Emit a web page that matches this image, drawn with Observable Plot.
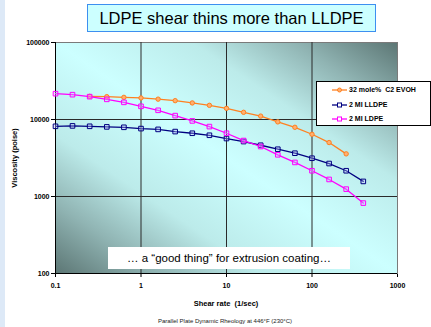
<!DOCTYPE html>
<html>
<head>
<meta charset="utf-8">
<script src="https://cdn.jsdelivr.net/npm/d3@7"></script>
<script src="https://cdn.jsdelivr.net/npm/@observablehq/plot@0.6"></script>
<style>
  html, body { margin: 0; padding: 0; background: #ffffff; }
  body { font-family: "Liberation Sans", Arial, sans-serif; }
  #wrap { position: relative; width: 431px; height: 327px; overflow: hidden; }
  #strip { position: absolute; left: 0; top: 0; width: 5px; height: 327px; background: #dde9f7; }
  #chart { position: absolute; left: 0; top: 0; }
  #title { position: absolute; left: 87px; top: 4px; width: 287px; height: 26px; box-sizing: content-box;
           border: 1px solid #3d8ff0; background: #ccffff; font-size: 16.5px; line-height: 26px; text-align: center; color: #000; }
  #legend { position: absolute; left: 316px; top: 81px; width: 113px; height: 43px; background: #fff; border: 1px solid #000; }
  .lg { position: absolute; left: 15px; font-size: 7px; font-weight: bold; line-height: 8px; white-space: pre; }
  .lg svg { vertical-align: middle; margin-right: 2px; }
  #note { position: absolute; left: 108px; top: 247px; width: 242px; height: 22px; background: #fff;
          font-size: 11.5px; line-height: 22px; text-align: center; white-space: nowrap; }
  #ylab { position: absolute; left: 14px; top: 158px; transform: translate(-50%, -50%) rotate(-90deg);
          font-size: 7.5px; font-weight: bold; white-space: nowrap; }
  #xlab { position: absolute; left: 226px; top: 303px; transform: translate(-50%, -50%);
          font-size: 7.5px; font-weight: bold; white-space: pre; }
  #cap { position: absolute; left: 225px; top: 321px; transform: translate(-50%, -50%);
         font-size: 6px; white-space: nowrap; color: #222; }
</style>
</head>
<body>
<div id="wrap">
  <div id="strip"></div>
  <div id="chart"></div>
  <div id="title">LDPE shear thins more than LLDPE</div>
  <div id="legend"></div>
  <div id="note">… a “good thing” for extrusion coating…</div>
  <div id="ylab">Viscosity (poise)</div>
  <div id="xlab">Shear rate  (1/sec)</div>
  <div id="cap">Parallel Plate Dynamic Rheology at 446°F (230°C)</div>
</div>
<script>
// ---- data ----
const shearRate = [0.1, 0.158, 0.251, 0.398, 0.631, 1, 1.585, 2.51, 3.98, 6.31, 10, 15.85, 25.1, 39.8, 63.1, 100, 158.5, 251, 398];
const evohRate = [0.251, 0.398, 0.631, 1, 1.585, 2.51, 3.98, 6.31, 10, 15.85, 25.1, 39.8, 63.1, 100, 158.5, 251];
const evohVisc = [19980, 19800, 19390, 19050, 18380, 17570, 16410, 15280, 13960, 12400, 11070, 9310, 7920, 6430, 5020, 3580];
const lldpeVisc = [8160, 8260, 8160, 8020, 7920, 7620, 7440, 6970, 6630, 6240, 5660, 5170, 4630, 4110, 3650, 3140, 2680, 2160, 1570];
const ldpeVisc = [21650, 21010, 19800, 18270, 16700, 14830, 13160, 11230, 9590, 8090, 6630, 5330, 4460, 3480, 2770, 2160, 1665, 1246, 821];
const seriesNames = ["32 mole%  C2 EVOH", "2 MI LLDPE", "2 MI LDPE"];
const seriesColors = ["#ff8020", "#000080", "#ff00ff"];
const seriesSymbols = ["circle", "square", "square"];
const xTicks = [0.1, 1, 10, 100, 1000];
const yTicks = [100, 1000, 10000, 100000];
const xGrid = [1, 10, 100];
const yGrid = [1000, 10000];

const evoh = evohRate.map((x, i) => ({x, y: evohVisc[i]}));
const lldpe = shearRate.map((x, i) => ({x, y: lldpeVisc[i]}));
const ldpe = shearRate.map((x, i) => ({x, y: ldpeVisc[i]}));
const sets = [evoh, lldpe, ldpe];

const marks = [
  Plot.frame({fill: "url(#bgGrad)", stroke: "#7a7a7a"}),
  Plot.ruleX(xGrid, {stroke: "#2a2a2a", strokeWidth: 1}),
  Plot.ruleY(yGrid, {stroke: "#2a2a2a", strokeWidth: 1}),
  Plot.ruleX([0.1], {stroke: "#000", strokeWidth: 1}),
  Plot.ruleY([100], {stroke: "#000", strokeWidth: 1})
];
sets.forEach((d, i) => {
  marks.push(Plot.line(d, {x: "x", y: "y", stroke: seriesColors[i], strokeWidth: 1.3}));
  marks.push(Plot.dot(d, {x: "x", y: "y", stroke: seriesColors[i], fill: i === 0 ? "#ffb070" : "#c8c8ff",
    fillOpacity: i === 0 ? 1 : 0.35, symbol: seriesSymbols[i], r: i === 0 ? 2.2 : 2.6, strokeWidth: 1}));
});

const chart = Plot.plot({
  width: 431,
  height: 327,
  marginLeft: 55,
  marginRight: 34,
  marginTop: 42,
  marginBottom: 54,
  style: {fontFamily: "'Liberation Sans', Arial, sans-serif", fontSize: "7px", fontWeight: "bold", background: "transparent", color: "#000"},
  x: {type: "log", domain: [0.1, 1000], ticks: xTicks, tickFormat: d => String(d), tickSize: 4, tickPadding: 6, label: null},
  y: {type: "log", domain: [100, 100000], ticks: yTicks, tickFormat: d => String(d), tickSize: 4, tickPadding: 2, label: null},
  marks
});

// gradient definition for the plot area background
const svg = d3.select(chart.tagName.toLowerCase() === "svg" ? chart : chart.querySelector("svg"));
const defs = svg.insert("defs", ":first-child");
const g = defs.append("linearGradient").attr("id", "bgGrad")
  .attr("x1", 0).attr("y1", 1).attr("x2", 1).attr("y2", 0);
[[0, "#5c7674"], [0.15, "#90b4b3"], [0.3, "#bcebea"], [0.5, "#ccffff"], [0.7, "#bcebea"], [0.85, "#90b4b3"], [1, "#5c7674"]]
  .forEach(([o, c]) => g.append("stop").attr("offset", o).attr("stop-color", c));
svg.selectAll('[aria-label="frame"]').each(function() {
  const el = d3.select(this);
  if (this.tagName.toLowerCase() === "rect") el.attr("fill", "url(#bgGrad)");
  else el.selectAll("rect").attr("fill", "url(#bgGrad)");
});
document.getElementById("chart").appendChild(chart);

// legend
const legend = document.getElementById("legend");
const tops = [4, 19, 33];
seriesNames.forEach((name, i) => {
  const div = document.createElement("div");
  div.className = "lg";
  div.style.top = tops[i] + "px";
  const sym = seriesSymbols[i] === "circle"
    ? `<circle cx="7.5" cy="4" r="2" fill="#ffb070" stroke="${seriesColors[i]}"/>`
    : `<rect x="5.5" y="2" width="4" height="4" fill="#fff" stroke="${seriesColors[i]}"/>`;
  div.innerHTML = `<svg width="15" height="8"><line x1="0" x2="15" y1="4" y2="4" stroke="${seriesColors[i]}" stroke-width="1.3"/>${sym}</svg>${name}`;
  legend.appendChild(div);
});
</script>
</body>
</html>
